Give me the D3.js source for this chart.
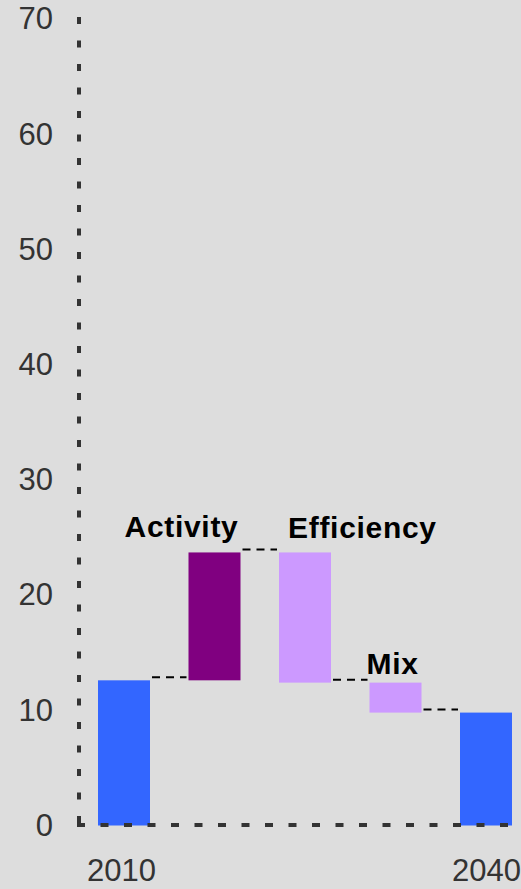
<!DOCTYPE html>
<html>
<head>
<meta charset="utf-8">
<script src="https://cdn.jsdelivr.net/npm/d3@7"></script>
<style>
  html, body { margin: 0; padding: 0; background: #dddddd; }
  svg { display: block; }
</style>
</head>
<body>
<svg id="chart" width="521" height="889"></svg>
<script>
// ---- data ----
const categories = ["2010", "Activity", "Efficiency", "Mix", "2040"];
const values = [12.6, 11.1, -11.3, -2.6, 9.8];
const kinds = ["total", "increase", "decrease", "decrease", "total"];
const barLabels = ["", "Activity", "Efficiency", "Mix", ""];
const xTickLabels = ["2010", "", "", "", "2040"];
const yTicks = [0, 10, 20, 30, 40, 50, 60, 70];

// ---- build waterfall segments ----
let running = 0;
const bars = categories.map((c, i) => {
  let start, end;
  if (kinds[i] === "total") { start = 0; end = values[i]; running = values[i]; }
  else { start = running; end = running + values[i]; running = end; }
  return { cat: c, start, end, kind: kinds[i], label: barLabels[i], i };
});

const colors = { total: "#3366ff", increase: "#800080", decrease: "#cc99ff" };

const svg = d3.select("#chart");
svg.append("rect").attr("width", 521).attr("height", 889).attr("fill", "#dddddd");

const y = d3.scaleLinear().domain([0, 70]).range([825.5, 19]);
const x = d3.scalePoint().domain(categories).range([124, 486]);
const barW = 52;

// bars
svg.append("g").selectAll("rect").data(bars).join("rect")
  .attr("x", d => x(d.cat) - barW / 2)
  .attr("width", barW)
  .attr("y", d => y(Math.max(d.start, d.end)))
  .attr("height", d => Math.abs(y(d.start) - y(d.end)))
  .attr("fill", d => colors[d.kind]);

// connectors
const conn = [];
for (let i = 0; i < bars.length - 1; i++) {
  conn.push({ level: bars[i].end, x1: x(bars[i].cat) + barW / 2 + 2, x2: x(bars[i + 1].cat) - barW / 2 - 2 });
}
svg.append("g").selectAll("line").data(conn).join("line")
  .attr("x1", d => d.x1).attr("x2", d => d.x2)
  .attr("y1", d => y(d.level) - 3).attr("y2", d => y(d.level) - 3)
  .attr("stroke", "#000").attr("stroke-width", 2)
  .attr("stroke-dasharray", "8,6");

// bar labels
const labelSpec = {
  "Activity": { anchor: "end", dx: barW / 2 - 2, dy: -15 },
  "Efficiency": { anchor: "start", dx: -barW / 2 + 9, dy: -14 },
  "Mix": { anchor: "middle", dx: -3, dy: -9 }
};
svg.append("g").selectAll("text").data(bars.filter(d => d.label)).join("text")
  .attr("x", d => x(d.cat) + labelSpec[d.label].dx)
  .attr("y", d => y(Math.max(d.start, d.end)) + labelSpec[d.label].dy)
  .attr("text-anchor", d => labelSpec[d.label].anchor)
  .attr("font-family", "Liberation Sans, Arial, sans-serif")
  .attr("font-weight", "bold")
  .attr("font-size", 30)
  .attr("letter-spacing", "0.7px")
  .attr("fill", "#000")
  .text(d => d.label);

// y axis labels
const yAxis = d3.axisLeft(y).tickValues(yTicks).tickSize(0).tickPadding(26);
const gy = svg.append("g").attr("transform", "translate(79,0)").call(yAxis);
gy.select(".domain").remove();
gy.selectAll("text")
  .attr("font-family", "Liberation Sans, Arial, sans-serif")
  .attr("font-size", 31)
  .attr("fill", "#333333");

// x axis labels
const xAxis = d3.axisBottom(x).tickSize(0).tickPadding(34)
  .tickFormat((d, i) => xTickLabels[i]);
const gx = svg.append("g").attr("transform", "translate(0,825)").call(xAxis);
gx.select(".domain").remove();
gx.selectAll("text")
  .attr("font-family", "Liberation Sans, Arial, sans-serif")
  .attr("font-size", 31)
  .attr("fill", "#333333")
  .attr("dx", (d, i) => i === 0 ? -3 : 0);

// dashed axis lines
svg.append("line")
  .attr("x1", 79).attr("x2", 79).attr("y1", 17).attr("y2", 827)
  .attr("stroke", "#333333").attr("stroke-width", 4)
  .attr("stroke-dasharray", "7,16.5");
svg.append("line")
  .attr("x1", 77).attr("x2", 512).attr("y1", 825).attr("y2", 825)
  .attr("stroke", "#333333").attr("stroke-width", 4)
  .attr("stroke-dasharray", "8,15.5");
</script>
</body>
</html>
